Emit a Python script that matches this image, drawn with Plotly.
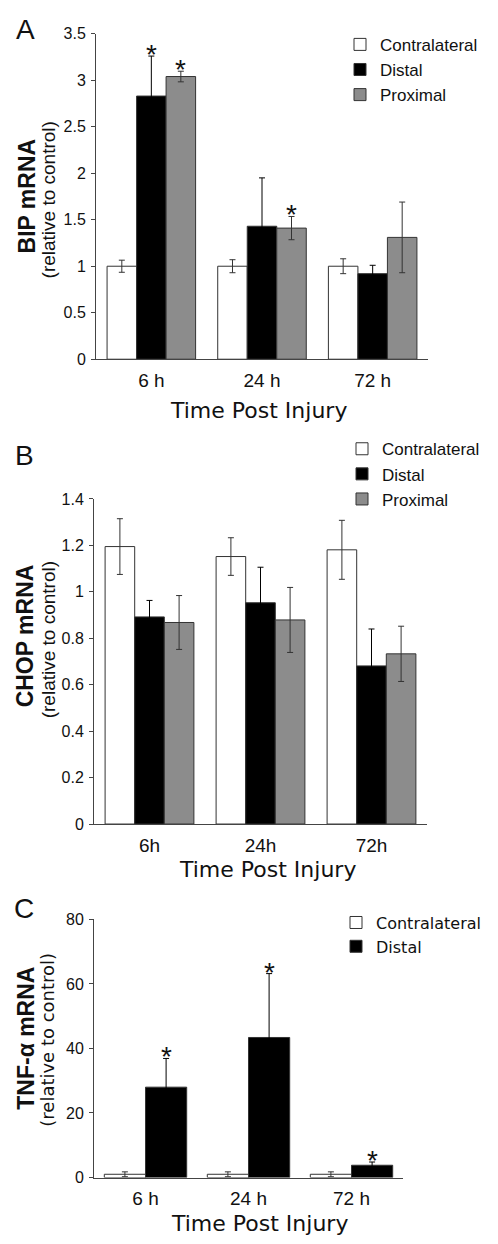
import plotly.graph_objects as go

# ---------------- data ----------------
series_names_AB = ["Contralateral", "Distal", "Proximal"]
series_names_C = ["Contralateral", "Distal"]

times_A = ["6 h", "24 h", "72 h"]
bip_contra = [1.0, 1.0, 1.0]
bip_contra_err = [0.065, 0.07, 0.08]
bip_distal = [2.83, 1.43, 0.92]
bip_distal_err = [0.43, 0.52, 0.09]
bip_prox = [3.04, 1.41, 1.31]
bip_prox_err = [0.057, 0.125, 0.38]
bip_star_contra = [False, False, False]
bip_star_distal = [True, False, False]
bip_star_prox = [True, True, False]

times_B = ["6h", "24h", "72h"]
chop_contra = [1.195, 1.152, 1.181]
chop_contra_err = [0.12, 0.081, 0.127]
chop_distal = [0.892, 0.953, 0.681]
chop_distal_err = [0.071, 0.153, 0.159]
chop_prox = [0.868, 0.879, 0.733]
chop_prox_err = [0.116, 0.14, 0.119]

times_C = ["6 h", "24 h", "72 h"]
tnf_contra = [1.0, 1.0, 1.0]
tnf_contra_err = [0.75, 0.75, 0.75]
tnf_distal = [28.0, 43.4, 3.8]
tnf_distal_err = [8.9, 19.8, 1.0]
tnf_star_contra = [False, False, False]
tnf_star_distal = [True, True, True]

# ---------------- style ----------------
PAGE_OFF = 8  # default body margin of the html page
W, H = 498 - PAGE_OFF, 1244 - PAGE_OFF
ARIAL = "Liberation Sans, Arial, Helvetica, sans-serif"
VERD = "DejaVu Sans, Verdana, sans-serif"
EDGE = "#333333"
COLORS = ["#ffffff", "#000000", "#8c8c8c"]
ERRC = ["#333333", "#000000", "#333333"]


def px_x(p):
    return (p - PAGE_OFF) / W


def px_y(p):
    return 1 - (p - PAGE_OFF) / H


fig = go.Figure()


def add_bars(times, vals, errs, names, xa, ya, legend):
    for i, (v, e, n) in enumerate(zip(vals, errs, names)):
        fig.add_trace(go.Bar(
            x=times, y=v, name=n,
            marker=dict(color=COLORS[i], line=dict(color=EDGE, width=1)),
            error_y=dict(type="data", array=e, color=ERRC[i], thickness=1, width=3),
            xaxis=xa, yaxis=ya, legend=legend, offsetgroup=str(i),
        ))


add_bars(times_A, [bip_contra, bip_distal, bip_prox],
         [bip_contra_err, bip_distal_err, bip_prox_err], series_names_AB, "x", "y", "legend")
add_bars(times_B, [chop_contra, chop_distal, chop_prox],
         [chop_contra_err, chop_distal_err, chop_prox_err], series_names_AB, "x2", "y2", "legend2")
add_bars(times_C, [tnf_contra, tnf_distal],
         [tnf_contra_err, tnf_distal_err], series_names_C, "x3", "y3", "legend3")

annotations = []


def add_stars(vals, errs, stars, xref, yref, nser):
    bw = 0.8 / nser
    for s in range(nser):
        off = (s - (nser - 1) / 2) * bw
        for i in range(len(vals[s])):
            if stars[s][i]:
                annotations.append(dict(
                    x=i + off, y=vals[s][i] + errs[s][i], xref=xref, yref=yref,
                    text="*", showarrow=False, yanchor="bottom", yshift=-16,
                    font=dict(family=ARIAL, size=28, color="#111")))


add_stars([bip_contra, bip_distal, bip_prox], [bip_contra_err, bip_distal_err, bip_prox_err],
          [bip_star_contra, bip_star_distal, bip_star_prox], "x", "y", 3)
add_stars([tnf_contra, tnf_distal], [tnf_contra_err, tnf_distal_err],
          [tnf_star_contra, tnf_star_distal], "x3", "y3", 2)


def text(xp, yp, t, size, family=ARIAL, angle=0, weight="normal"):
    annotations.append(dict(
        x=px_x(xp), y=px_y(yp), xref="paper", yref="paper", text=t, showarrow=False,
        xanchor="center", yanchor="middle", textangle=angle,
        font=dict(family=family, size=size, color="#111", weight=weight)))


# panel letters
text(25, 22, "A", 28)
text(24, 454, "B", 28)
text(24, 913, "C", 28)
# y titles
text(27, 191, "BIP mRNA", 23, angle=-90, weight="bold")
text(48, 195, "(relative to control)", 19, angle=-90)
text(25, 637, "CHOP mRNA", 23, angle=-90, weight="bold")
text(48, 641, "(relative to control)", 19, angle=-90)
text(26, 1045, "TNF-α mRNA", 23, angle=-90, weight="bold")
text(48, 1046, "(relative to control)", 18, family=VERD, angle=-90)
# x titles
text(258, 408, "Time Post Injury", 22, family=VERD)
text(267, 873, "Time Post Injury", 22, family=VERD)
text(259, 1232, "Time Post Injury", 22, family=VERD)


def xaxis(domain, anchor):
    return dict(domain=domain, anchor=anchor, type="category", showline=True, linecolor="#444",
                linewidth=1, ticks="", showgrid=False, zeroline=False,
                tickfont=dict(family=ARIAL, size=19, color="#111"), ticklabelstandoff=4,
                range=[-0.5, 2.5], fixedrange=True)


def yaxis(domain, anchor, rng, dtick):
    return dict(domain=domain, anchor=anchor, range=rng, dtick=dtick, showline=True,
                linecolor="#444", linewidth=1, ticks="outside", ticklen=4, tickcolor="#444",
                showgrid=False, zeroline=False,
                tickfont=dict(family=ARIAL, size=16, color="#111"), ticklabelstandoff=2)


def legend(xp, yp, family, size):
    return dict(x=px_x(xp), y=px_y(yp), xanchor="left", yanchor="top", bgcolor="rgba(0,0,0,0)",
                font=dict(family=family, size=size, color="#111"), tracegroupgap=0,
                itemclick=False, itemdoubleclick=False)


fig.update_layout(
    width=W, height=H, margin=dict(l=0, r=0, t=0, b=0),
    paper_bgcolor="white", plot_bgcolor="white",
    barmode="group", bargap=0.2, bargroupgap=0,
    xaxis=xaxis([px_x(96), px_x(428)], "y"),
    yaxis=yaxis([px_y(356), px_y(26)], "x", [0, 3.5], 0.5),
    xaxis2=xaxis([px_x(94), px_x(427)], "y2"),
    yaxis2=yaxis([px_y(827.3), px_y(497.7)], "x2", [0, 1.4], 0.2),
    xaxis3=xaxis([px_x(94), px_x(403)], "y3"),
    yaxis3=yaxis([px_y(1185.7), px_y(924)], "x3", [0, 80], 20),
    legend=legend(340, 19, ARIAL, 17),
    legend2=legend(342, 429, ARIAL, 17),
    legend3=legend(336, 910, VERD, 16),
    annotations=annotations,
    showlegend=True,
)

fig.write_html("out.html")
